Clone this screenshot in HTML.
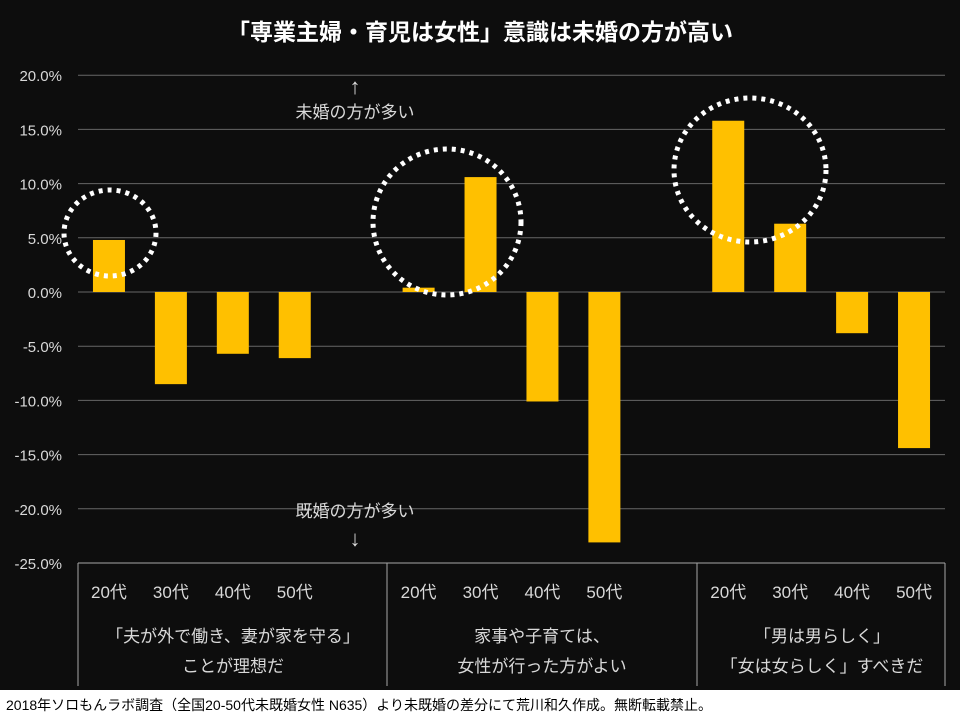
<!DOCTYPE html>
<html><head><meta charset="utf-8"><style>
html,body{margin:0;padding:0;background:#0d0d0d;}
svg{display:block}
text{font-family:"Liberation Sans","Noto Sans CJK JP",sans-serif;}
</style></head><body>
<svg id="c" width="960" height="720" xmlns="http://www.w3.org/2000/svg">
<rect x="0" y="0" width="960" height="690" fill="#0d0d0d"/>
<rect x="0" y="690" width="960" height="30" fill="#ffffff"/>
<text x="480" y="40" text-anchor="middle" fill="#ffffff" font-size="23" font-weight="bold">「専業主婦・育児は女性」意識は未婚の方が高い</text>
<g id="grid"></g><g id="bars"></g>
<text x="355" y="94" text-anchor="middle" fill="#d9d9d9" font-size="22">↑</text>
<text x="355" y="118" text-anchor="middle" fill="#d9d9d9" font-size="17">未婚の方が多い</text>
<text x="355" y="517" text-anchor="middle" fill="#d9d9d9" font-size="17">既婚の方が多い</text>
<text x="355" y="546" text-anchor="middle" fill="#d9d9d9" font-size="22">↓</text>
<ellipse cx="110" cy="233" rx="46" ry="43" fill="none" stroke="#fff" stroke-width="5" stroke-dasharray="4 5"/>
<ellipse cx="447" cy="222" rx="74" ry="73" fill="none" stroke="#fff" stroke-width="5" stroke-dasharray="4 5"/>
<ellipse cx="750" cy="170" rx="76" ry="72" fill="none" stroke="#fff" stroke-width="5" stroke-dasharray="4 5"/>
<g id="bottom" fill="#d9d9d9" font-size="17" text-anchor="middle">
<text x="233" y="642">「夫が外で働き、妻が家を守る」</text>
<text x="233" y="672">ことが理想だ</text>
<text x="542" y="642">家事や子育ては、</text>
<text x="542" y="672">女性が行った方がよい</text>
<text x="822" y="642">「男は男らしく」</text>
<text x="822" y="672">「女は女らしく」すべきだ</text>
</g>
<text x="6" y="710" fill="#000" font-size="14">2018年ソロもんラボ調査（全国20-50代未既婚女性 N635）より未既婚の差分にて荒川和久作成。無断転載禁止。</text>
</svg>
<script>
const categories=["20代","30代","40代","50代"];
const group1Values=[4.8,-8.5,-5.7,-6.1];
const group2Values=[0.4,10.6,-10.1,-23.1];
const group3Values=[15.8,6.3,-3.8,-14.4];
const yTicks=[20,15,10,5,0,-5,-10,-15,-20,-25];
const NS="http://www.w3.org/2000/svg";
const x0=78,x1=945,slotW=(x1-x0)/14;
const y=v=>292-(v)*(563-292)/25;
const xc=s=>x0+(s+0.5)*slotW;
const grid=document.getElementById('grid'),bars=document.getElementById('bars'),svg=document.getElementById('c');
function mk(tag,attrs,parent){const e=document.createElementNS(NS,tag);for(const k in attrs)e.setAttribute(k,attrs[k]);parent.appendChild(e);return e;}
yTicks.forEach(t=>{
  if(t!==-25){const l=mk('line',{x1:x0,x2:x1,y1:y(t),y2:y(t),stroke:'#666666','stroke-width':1},grid);
  
  }
  const tx=mk('text',{x:62,y:y(t)+6,'text-anchor':'end',fill:'#d9d9d9','font-size':15},grid);
  tx.textContent=t.toFixed(1)+'%';
  
  
});
const ax=mk('line',{x1:x0,x2:x1,y1:y(-25),y2:y(-25),stroke:'#a6a6a6','stroke-width':1},grid);


[x0,387,697,x1].forEach(xx=>{
  const l=mk('line',{x1:xx,x2:xx,y1:y(-25),y2:686,stroke:'#a6a6a6','stroke-width':1},grid);
  
  
});
[group1Values,group2Values,group3Values].forEach((vals,g)=>{
  vals.forEach((v,i)=>{
    const s=g*5+i,cx=xc(s);
    const r=mk('rect',{x:cx-16,width:32,y:Math.min(y(v),y(0)),height:Math.abs(y(v)-y(0)),fill:'#ffc000'},bars);
    
    
    const t=mk('text',{x:cx,y:598,'text-anchor':'middle',fill:'#d9d9d9','font-size':17},svg);
    t.textContent=categories[i];
    
    
  });
});
</script>
</body></html>
